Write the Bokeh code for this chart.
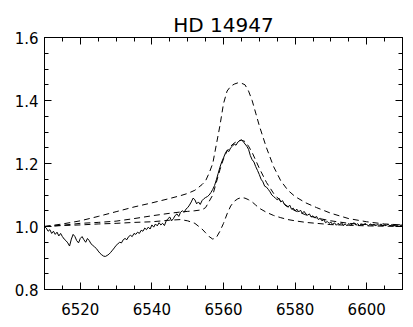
from bokeh.plotting import figure
from bokeh.models import Range1d, FixedTicker, LinearAxis, PrintfTickFormatter, CustomJSTickFormatter
from bokeh.embed import file_html
from bokeh.resources import INLINE

# Observed spectrum (solid), sampled every 0.5 A from 6510 A
obs_flux = [1.000, 0.995, 0.985, 0.990, 0.978, 0.985, 0.975, 0.982, 0.970, 0.978,
            0.968, 0.960, 0.955, 0.948, 0.938, 0.960, 0.975, 0.968, 0.955, 0.948,
            0.962, 0.968, 0.958, 0.950, 0.962, 0.955, 0.945, 0.940, 0.935, 0.930,
            0.922, 0.915, 0.910, 0.906, 0.905, 0.908, 0.912, 0.918, 0.925, 0.932,
            0.940, 0.945, 0.950, 0.948, 0.958, 0.962, 0.958, 0.968, 0.972, 0.968,
            0.978, 0.975, 0.982, 0.978, 0.988, 0.985, 0.995, 0.990, 0.998, 0.992,
            1.005, 0.998, 1.008, 1.002, 1.012, 1.005, 1.010, 1.003, 1.018, 1.025,
            1.030, 1.018, 1.025, 1.035, 1.040, 1.032, 1.045, 1.050, 1.045, 1.055,
            1.060, 1.068, 1.078, 1.090, 1.085, 1.072, 1.078, 1.070, 1.082, 1.088,
            1.092, 1.095, 1.100, 1.108, 1.118, 1.130, 1.148, 1.168, 1.188, 1.205,
            1.218, 1.232, 1.242, 1.238, 1.250, 1.255, 1.262, 1.258, 1.268, 1.272,
            1.275, 1.270, 1.262, 1.255, 1.245, 1.225, 1.212, 1.205, 1.190, 1.178,
            1.165, 1.150, 1.142, 1.128, 1.125, 1.118, 1.110, 1.100, 1.095, 1.090,
            1.085, 1.090, 1.078, 1.082, 1.070, 1.065, 1.062, 1.068, 1.055, 1.058,
            1.050, 1.055, 1.046, 1.052, 1.042, 1.048, 1.040, 1.036, 1.040, 1.030,
            1.034, 1.028, 1.032, 1.022, 1.026, 1.018, 1.022, 1.012, 1.016, 1.010,
            1.014, 1.006, 1.012, 1.004, 1.010, 1.006, 1.012, 1.003, 1.008, 1.002,
            1.010, 1.004, 1.008, 1.012, 1.004, 1.009, 1.002, 1.008, 1.004, 1.010,
            1.006, 1.003, 1.008, 1.004, 1.007, 1.003, 1.006, 1.004, 1.008, 1.003,
            1.006, 1.004, 1.007, 1.002, 1.006, 1.003, 1.005, 1.003, 1.006, 1.004,
            1.005]
obs_wl = [6510 + 0.5 * i for i in range(len(obs_flux))]

# Model wavelengths (dashed)
mod_wl = [6510, 6515, 6520, 6525, 6530, 6535, 6540, 6545, 6548, 6550,
          6552, 6554, 6555, 6556, 6557, 6558, 6559, 6560, 6561, 6562,
          6563, 6564, 6565, 6566, 6567, 6568, 6569, 6570, 6572, 6574,
          6576, 6578, 6580, 6583, 6586, 6590, 6595, 6600, 6605, 6610]

model_high = [1.0, 1.008, 1.018, 1.032, 1.047, 1.062, 1.075, 1.089, 1.098, 1.105,
              1.115, 1.133, 1.145, 1.17, 1.20, 1.26, 1.32, 1.39, 1.43, 1.445,
              1.452, 1.456, 1.455, 1.45, 1.43, 1.40, 1.36, 1.32, 1.25, 1.19,
              1.145, 1.115, 1.095, 1.075, 1.06, 1.042, 1.025, 1.015, 1.008, 1.005]

model_mid = [1.0, 1.004, 1.01, 1.013, 1.017, 1.025, 1.034, 1.042, 1.046, 1.048,
             1.05, 1.053, 1.06, 1.08, 1.10, 1.14, 1.18, 1.215, 1.24, 1.255,
             1.265, 1.272, 1.274, 1.27, 1.255, 1.235, 1.21, 1.185, 1.14, 1.105,
             1.08, 1.063, 1.05, 1.037, 1.027, 1.018, 1.01, 1.006, 1.003, 1.002]

model_low = [1.0, 1.003, 1.005, 1.008, 1.01, 1.013, 1.015, 1.02, 1.022, 1.018,
             1.01, 0.992, 0.98, 0.968, 0.96, 0.965, 0.985, 1.01, 1.04, 1.065,
             1.08, 1.088, 1.092, 1.09, 1.085, 1.078, 1.068, 1.058, 1.045, 1.035,
             1.028, 1.022, 1.018, 1.013, 1.01, 1.006, 1.004, 1.002, 1.001, 1.0]

x_major = [6520, 6540, 6560, 6580, 6600]
x_minor = list(range(6510, 6611, 5))
y_major = [0.8, 1.0, 1.2, 1.4, 1.6]
y_minor = [round(0.8 + 0.05 * i, 2) for i in range(17)]

FONT = "DejaVu Sans"

p = figure(width=405, height=319, output_backend="svg", toolbar_location=None,
           x_range=Range1d(6510, 6610), y_range=Range1d(0.8, 1.6),
           min_border_left=44, min_border_right=3, min_border_top=37, min_border_bottom=30,
           title="HD 14947")
p.title.align = "center"
p.title.text_font = FONT
p.title.text_font_size = "20px"
p.title.text_font_style = "normal"
p.title.text_color = "black"
p.title.standoff = 2

p.grid.visible = False
p.outline_line_color = "black"
p.outline_line_width = 1
p.background_fill_color = "white"
p.border_fill_color = "white"

def style(ax, labels=True):
    ax.axis_line_color = "black"
    ax.major_tick_line_color = "black"
    ax.minor_tick_line_color = "black"
    ax.major_tick_in = 7
    ax.major_tick_out = 0
    ax.minor_tick_in = 4
    ax.minor_tick_out = 0
    ax.major_label_text_font = FONT
    ax.major_label_text_color = "black"
    if labels:
        ax.major_label_text_font_size = "15px"
    else:
        ax.major_label_text_font_size = "0px"
        ax.formatter = CustomJSTickFormatter(code="return ''")

p.xaxis.ticker = FixedTicker(ticks=x_major, minor_ticks=x_minor)
p.yaxis.ticker = FixedTicker(ticks=y_major, minor_ticks=y_minor)
p.yaxis.formatter = PrintfTickFormatter(format="%.1f")
style(p.xaxis[0])
style(p.yaxis[0])
p.xaxis.major_label_standoff = 13
p.yaxis.major_label_standoff = 6

top = LinearAxis(ticker=FixedTicker(ticks=x_major, minor_ticks=x_minor))
style(top, labels=False)
p.add_layout(top, "above")
right = LinearAxis(ticker=FixedTicker(ticks=y_major, minor_ticks=y_minor))
style(right, labels=False)
p.add_layout(right, "right")

p.line(mod_wl, model_high, line_color="black", line_width=1, line_dash="6 4")
p.line(mod_wl, model_mid, line_color="black", line_width=1, line_dash="6 4")
p.line(mod_wl, model_low, line_color="black", line_width=1, line_dash="6 4")
p.line(obs_wl, obs_flux, line_color="black", line_width=1)

open("out.html", "w").write(file_html(p, INLINE))
